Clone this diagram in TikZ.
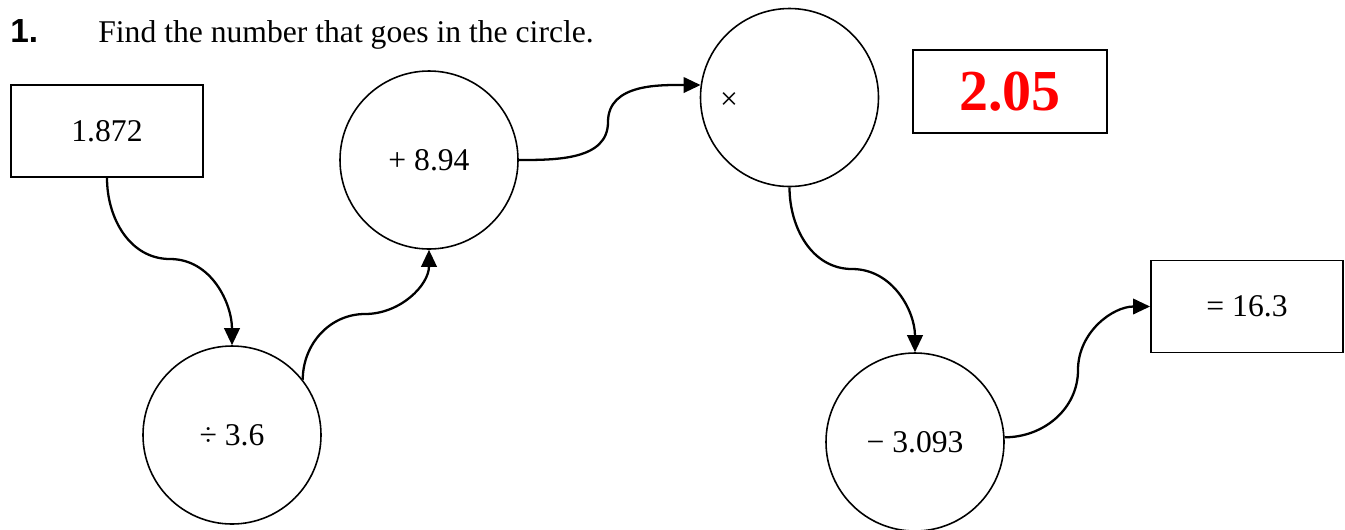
\documentclass[tikz,border=0pt]{standalone}
\usepackage{fontspec}
\setmainfont{Liberation Serif}
\newfontfamily\headfont{Liberation Sans}
\usetikzlibrary{arrows.meta}
\tikzset{
    valbox/.style={
        rectangle, draw=black, line width=1.1pt,
        minimum width=3.84cm, minimum height=1.84cm,
        font=\fontsize{18}{21}\selectfont, align=center
    },
    answer/.style={
        rectangle, draw=black, line width=1.1pt,
        minimum width=3.88cm, minimum height=1.66cm,
        font=\fontsize{33}{36}\selectfont\bfseries, text=red
    },
    opcircle/.style={
        circle, draw=black, line width=0.9pt,
        minimum size=3.56cm, inner sep=0pt,
        font=\fontsize{18}{21}\selectfont
    },
    flow/.style={-{Triangle[length=0.34cm, width=0.31cm]}, line width=1.3pt, draw=black}
}

\begin{document}
\begin{tikzpicture}
    \useasboundingbox (0,0) rectangle (26.90,-10.58);
    % heading
    \node[anchor=base west, inner sep=0pt, font=\headfont\bfseries\fontsize{19}{21}\selectfont] (qnum) at (0.20,-0.84) {1.};
    \node[anchor=base west, inner sep=0pt, font=\fontsize{18}{21}\selectfont] (qtext) at (1.96,-0.84) {Find the number that goes in the circle.};
    % chain of operations
    \node[valbox] (start) at (2.14,-2.62) {1.872};
    \node[opcircle] (div) at (4.64,-8.70) {÷ 3.6};
    \node[opcircle] (plus) at (8.58,-3.20) {+ 8.94};
    \node[opcircle] (mul) at (15.79,-1.95) {};
    \node[inner sep=0pt, font=\fontsize{18}{21}\selectfont] (mulsign) at (14.58,-2.02) {×};
    \node[answer] (ans) at (20.20,-1.83) {2.05};
    \node[opcircle] (minus) at (18.30,-8.84) {− 3.093};
    \node[valbox] (result) at (24.94,-6.13) {= 16.3};
    % bend points
    \coordinate (m1) at (3.40,-5.18);
    \coordinate (m2) at (7.30,-6.28);
    \coordinate (m3) at (12.16,-2.44);
    \coordinate (m4) at (17.04,-5.38);
    \coordinate (m5) at (21.56,-7.40);
    % connectors
    \draw[flow] (start.south) to[out=-90, in=180] (m1) to[out=0, in=90] (div.north);
    \draw[flow] (div.38) to[out=90, in=180] (m2) to[out=0, in=-90] (plus.south);
    \draw[flow] (plus.east) to[out=0, in=-90] (m3) to[out=90, in=180] (mul.172);
    \draw[flow] (mul.south) to[out=-90, in=180] (m4) to[out=0, in=90] (minus.north);
    \draw[flow] (minus.3) to[out=0, in=-90] (m5) to[out=90, in=180] (result.west);
\end{tikzpicture}
\end{document}
